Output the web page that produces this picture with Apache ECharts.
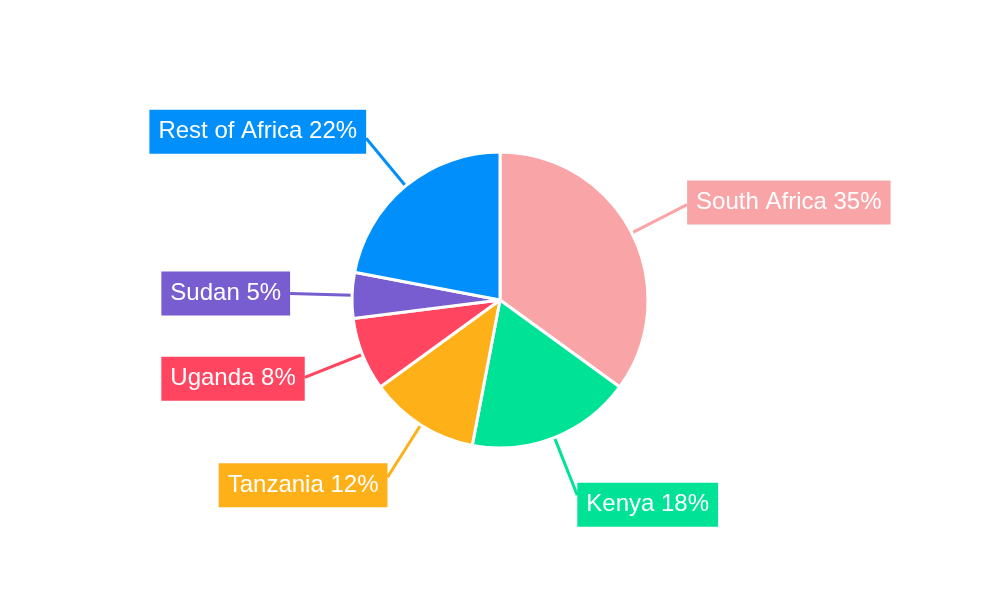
<!DOCTYPE html>
<html>
<head>
<meta charset="utf-8">
<script src="https://cdn.jsdelivr.net/npm/echarts@6/dist/echarts.min.js"></script>
<style>html,body{margin:0;padding:0;background:#fff}#c{width:1000px;height:600px}</style>
</head>
<body>
<div id="c"></div>
<script>
const categories = ['South Africa', 'Kenya', 'Tanzania', 'Uganda', 'Sudan', 'Rest of Africa'];
const values = [35, 18, 12, 8, 5, 22];
const colors = ['#F9A4A7', '#00E396', '#FEB019', '#FF4560', '#775DD0', '#008FFB'];

const chart = echarts.init(document.getElementById('c'), null, {renderer: 'canvas'});
chart.setOption({
  animation: false,
  series: [{
    type: 'pie',
    center: [500, 300],
    radius: [0, 148],
    startAngle: 90,
    clockwise: true,
    avoidLabelOverlap: false,
    data: categories.map((c, i) => ({
      name: c, value: values[i],
      itemStyle: {color: colors[i]},
      label: {backgroundColor: colors[i]},
      labelLine: {lineStyle: {color: colors[i]}}
    })),
    itemStyle: {borderColor: '#fff', borderWidth: 3},
    label: {
      show: true,
      position: 'outside',
      formatter: '{b} {c}%',
      color: '#fff',
      fontFamily: 'Liberation Sans, Arial, sans-serif',
      fontSize: 24,
      lineHeight: 26,
      padding: [9, 9, 9, 9],
      distanceToLabelLine: 0
    },
    labelLine: {show: true, length: 62, length2: 0, smooth: false, lineStyle: {width: 3}},
    labelLayout: function (p) {
      const pts = p.labelLinePoints;
      if (!pts) return {};
      const a = pts[0], b = pts[1];
      const dx = b[0] - a[0], dy = b[1] - a[1];
      const len = Math.sqrt(dx * dx + dy * dy) || 1;
      const uy = dy / len;
      return {dy: 11 * uy * Math.abs(uy)};
    }
  }]
});
</script>
</body>
</html>
